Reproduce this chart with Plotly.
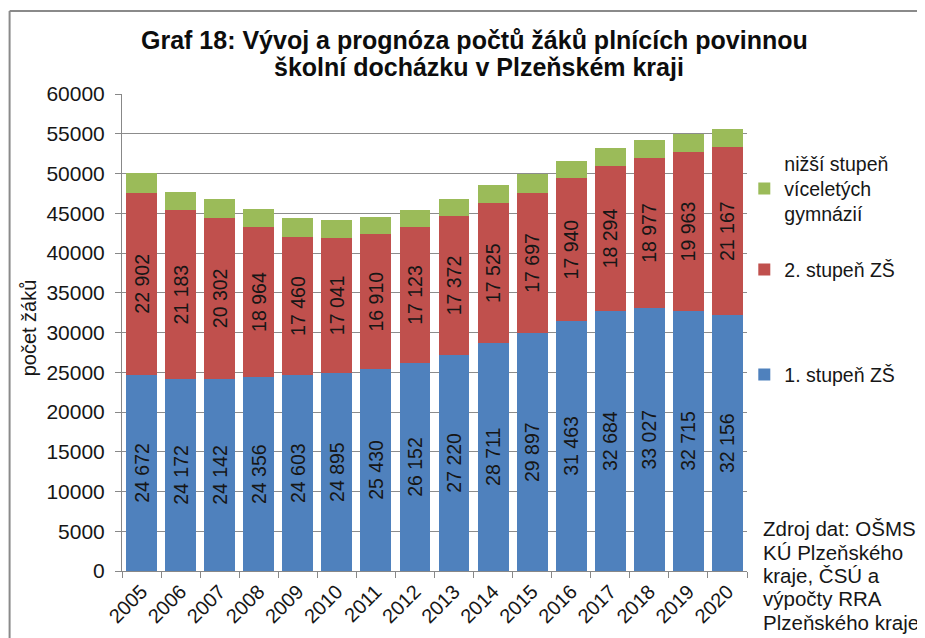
import plotly.graph_objects as go

years = [str(y) for y in range(2005, 2021)]
stupen1 = [24672, 24172, 24142, 24356, 24603, 24895, 25430, 26152, 27220, 28711, 29897, 31463, 32684, 33027, 32715, 32156]
stupen2 = [22902, 21183, 20302, 18964, 17460, 17041, 16910, 17123, 17372, 17525, 17697, 17940, 18294, 18977, 19963, 21167]
gymn = [2500, 2270, 2390, 2260, 2300, 2190, 2220, 2140, 2260, 2260, 2300, 2220, 2220, 2260, 2300, 2260]

title_lines = ["Graf 18: Vývoj a prognóza počtů žáků plnících povinnou", "školní docházku v Plzeňském kraji"]
source_lines = ["Zdroj dat: OŠMS", "KÚ Plzeňského", "kraje, ČSÚ a", "výpočty RRA", "Plzeňského kraje"]

def fmt(v):
    return f"{v:,}".replace(",", " ")

FONT = "Liberation Sans, Arial, sans-serif"
BLUE, RED, GREEN = "#4F81BD", "#C0504D", "#9BBB59"
TXT = "#161616"

# page offset (body margin) = 8 px; figure sized so it fits the window without scrolling
OFF = 8
W, H = 917, 630
L = 122.3 - OFF
T = 94 - OFF
R = W - (746.7 - OFF)
B = H - (571.5 - OFF)
pw, ph = W - L - R, H - T - B

def px(x):
    return (x - OFF - L) / pw

def py(y):
    return (H - B - (y - OFF)) / ph

lab_font = dict(size=19.5, color=TXT, family=FONT)

fig = go.Figure()
fig.add_trace(go.Bar(x=years, y=stupen1, name="1. stupeň ZŠ", marker=dict(color=BLUE, line=dict(width=0)),
                     text=[fmt(v) for v in stupen1], textposition="inside", insidetextanchor="middle",
                     textangle=-90, textfont=lab_font, legend="legend3"))
fig.add_trace(go.Bar(x=years, y=stupen2, name="2. stupeň ZŠ", marker=dict(color=RED, line=dict(width=0)),
                     text=[fmt(v) for v in stupen2], textposition="inside", insidetextanchor="middle",
                     textangle=-90, textfont=lab_font, legend="legend2"))
fig.add_trace(go.Bar(x=years, y=gymn, name="nižší stupeň<br>víceletých<br>gymnázií",
                     marker=dict(color=GREEN, line=dict(width=0)), legend="legend"))

legend_common = dict(font=dict(size=19.5, color=TXT, family=FONT), bgcolor="rgba(0,0,0,0)",
                     xanchor="left", yanchor="middle", itemwidth=30)
LEGX = px(744)

fig.update_layout(
    width=W, height=H,
    barmode="stack", bargap=0.21,
    margin=dict(l=L, r=R, t=T, b=B, autoexpand=False),
    paper_bgcolor="white", plot_bgcolor="white",
    font=dict(family=FONT, size=16, color=TXT),
    xaxis=dict(type="category", tickson="boundaries", ticks="outside", ticklen=6, tickcolor="#888888",
               showline=True, linecolor="#888888", linewidth=1, tickangle=-45,
               tickfont=dict(size=20, color=TXT), showgrid=False),
    yaxis=dict(range=[0, 60000], dtick=5000, tickformat="d", ticks="outside", ticklen=6,
               tickcolor="#888888", showline=True, linecolor="#888888", linewidth=1, ticklabelstandoff=6,
               gridcolor="#8c8c8c", gridwidth=1, tickfont=dict(size=21, color=TXT), zeroline=False),
    showlegend=True,
    legend=dict(x=LEGX, y=py(189), **legend_common),
    legend2=dict(x=LEGX, y=py(270), **legend_common),
    legend3=dict(x=LEGX, y=py(375), **legend_common),
)

# title as two lines (tight line spacing)
for line, yc, xc in zip(title_lines, [40, 66.5], [474.5, 478.5]):
    fig.add_annotation(text=f"<b>{line}</b>", x=px(xc), y=py(yc), xref="paper", yref="paper",
                       showarrow=False, xanchor="center", yanchor="middle",
                       font=dict(size=25, color="#0d0d0d", family=FONT))

fig.add_annotation(text="počet žáků", textangle=-90, x=px(29), y=py(328), xref="paper", yref="paper",
                   showarrow=False, font=dict(size=20, color=TXT), xanchor="center", yanchor="middle")

for i, line in enumerate(source_lines):
    fig.add_annotation(text=line, x=px(761), y=py(529 + 23.5 * i), xref="paper", yref="paper", align="left",
                       showarrow=False, font=dict(size=20.5, color=TXT), xanchor="left", yanchor="middle")

# outer frame (left and top edges visible)
fig.add_shape(type="line", xref="paper", yref="paper", x0=px(10), x1=px(10), y0=py(645), y1=py(11),
              line=dict(color="#8a8a8a", width=2))
fig.add_shape(type="line", xref="paper", yref="paper", x0=px(10), x1=px(930), y0=py(11), y1=py(11),
              line=dict(color="#8a8a8a", width=2))

fig.write_html("out.html", config={"displayModeBar": False})
